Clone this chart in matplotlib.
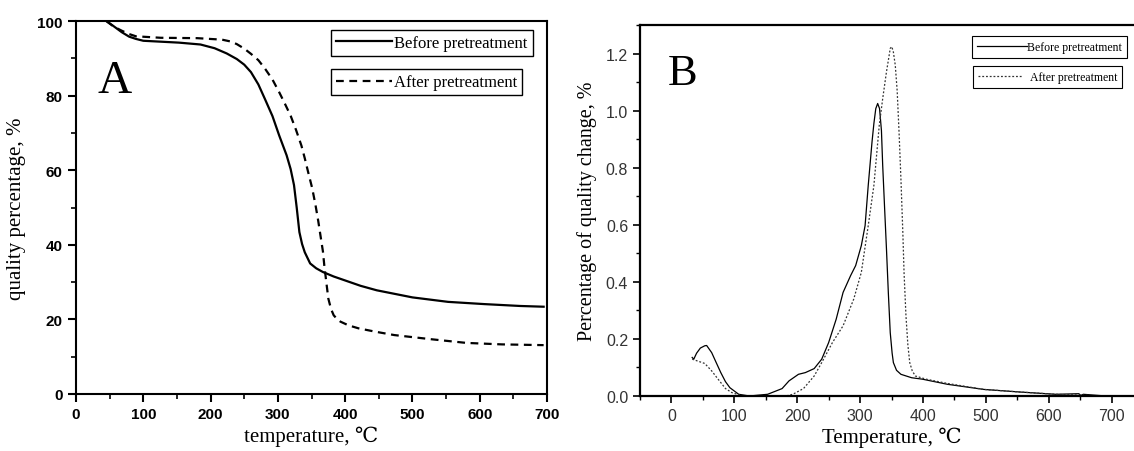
import numpy as np
import matplotlib
matplotlib.use("Agg")
import matplotlib.pyplot as plt
from matplotlib.ticker import MultipleLocator, FormatStrFormatter

# Panel A: TG curves (quality percentage, %)
tA_before = [45, 56, 68, 79, 89, 100, 153, 185, 206, 224, 239, 250, 260, 271, 281, 292, 302,
             313, 319, 324, 328, 332, 336, 340, 348, 357, 367, 383, 399, 423, 447, 500, 553,
             607, 660, 695]
pA_before = [100, 98.6, 97, 95.8, 95.2, 94.7, 94.2, 93.7, 92.7, 91.3, 89.8, 88.3, 86.3, 83,
             79, 74.5, 69.3, 64, 60.3, 56, 50, 43.4, 40.2, 38, 35, 33.7, 32.7, 31.5, 30.5, 29,
             27.8, 25.9, 24.7, 24.1, 23.6, 23.4]
tA_after = [45, 56, 68, 79, 89, 126, 180, 217, 230, 239, 250, 260, 271, 281, 292, 302, 310,
            319, 327, 335, 340, 345, 351, 356, 360, 364, 367, 369, 372, 375, 379, 383, 388,
            393, 405, 420, 445, 473, 527, 580, 633, 695]
pA_after = [100, 98.5, 97.4, 96.5, 95.9, 95.5, 95.4, 95, 94.5, 93.8, 92.6, 91.2, 89.5, 87.2,
            84.3, 80.9, 78, 74.6, 70.8, 66.6, 63.2, 59.5, 55.2, 50.6, 46.4, 41.7, 38.2, 34.5,
            30, 25.6, 22.8, 21.1, 20.1, 19.4, 18.4, 17.6, 16.7, 15.8, 14.7, 13.7, 13.3, 13.1]

# Panel B: DTG curves (percentage of quality change, %)
tB_before = [33, 35.5, 40, 46, 53, 56, 64, 71, 78.5, 86, 93, 107, 124, 153, 176, 187, 202,
             213, 227, 239, 250, 262, 273, 285, 293, 302, 308, 313, 319, 322, 325, 328, 331,
             334, 336, 339, 342, 345, 348, 351, 353, 358, 365, 382, 399, 439, 497, 554, 611,
             648, 651, 655, 691]
dB_before = [0.135, 0.129, 0.15, 0.168, 0.176, 0.177, 0.152, 0.118, 0.082, 0.05, 0.029, 0.006,
             0.0, 0.006, 0.026, 0.053, 0.076, 0.082, 0.096, 0.129, 0.187, 0.269, 0.363, 0.422,
             0.457, 0.527, 0.597, 0.738, 0.890, 0.955, 1.007, 1.025, 1.007, 0.93, 0.808, 0.66,
             0.515, 0.36, 0.222, 0.15, 0.117, 0.09, 0.076, 0.064, 0.059, 0.041, 0.023, 0.014,
             0.006, 0.008, 0.002, 0.006, 0.0]
tB_after = [33, 41, 53, 64, 71, 78.5, 86, 96, 113, 182, 193, 210, 227, 239, 256, 273, 290,
            302, 313, 322, 330.5, 336, 342, 346, 348, 350.5, 353, 356, 359, 362, 365, 368, 370,
            373, 376, 379, 383, 388, 405, 439, 497, 554, 611, 691]
dB_after = [0.129, 0.123, 0.114, 0.088, 0.068, 0.047, 0.026, 0.012, 0.0, 0.0, 0.006, 0.026,
            0.07, 0.117, 0.187, 0.246, 0.340, 0.433, 0.597, 0.738, 0.948, 1.042, 1.136, 1.19,
            1.218, 1.224, 1.205, 1.159, 1.07, 0.925, 0.76, 0.574, 0.43, 0.281, 0.18, 0.117,
            0.088, 0.070, 0.059, 0.044, 0.023, 0.014, 0.006, 0.0]

serif = ['Liberation Serif', 'DejaVu Serif']
sans = ['Liberation Sans', 'DejaVu Sans']

fig = plt.figure(figsize=(11.34, 4.52), dpi=100)

# ---------------- Panel A ----------------
axA = fig.add_axes([76 / 1134, 57 / 452, 471 / 1134, 373 / 452])
axA.plot(tA_before, pA_before, color='black', lw=1.6)
axA.plot(tA_after, pA_after, color='black', lw=1.6, ls=(0, (3.5, 2.5)))
axA.set_xlim(0, 700)
axA.set_ylim(0, 100)
axA.xaxis.set_major_locator(MultipleLocator(100))
axA.xaxis.set_minor_locator(MultipleLocator(50))
axA.yaxis.set_major_locator(MultipleLocator(20))
axA.yaxis.set_minor_locator(MultipleLocator(10))
axA.tick_params(which='major', direction='out', length=6, width=1.5)
axA.tick_params(which='minor', direction='out', length=3.5, width=1.2)
for lab in axA.get_xticklabels() + axA.get_yticklabels():
    lab.set_family(sans)
    lab.set_fontsize(11)
    lab.set_fontweight('bold')
for s in axA.spines.values():
    s.set_linewidth(1.5)
axA.set_xlabel('temperature, ℃', family=serif, fontsize=15, labelpad=3)
axA.set_ylabel('quality percentage, %', family=serif, fontsize=15, labelpad=8)
axA.text(0.045, 0.81, 'A', transform=axA.transAxes, family=serif, fontsize=34)

hA = axA.get_lines()
legA1 = axA.legend([hA[0]], ['Before pretreatment'], loc='upper left',
                   bbox_to_anchor=(0.541, 0.975), prop={'family': serif, 'size': 12},
                   fancybox=False, edgecolor='black', framealpha=1, borderaxespad=0,
                   handlelength=3.4, handletextpad=0.1, borderpad=0.3)
legA1.get_frame().set_linewidth(1.0)
axA.add_artist(legA1)
legA2 = axA.legend([hA[1]], ['After pretreatment'], loc='upper left',
                   bbox_to_anchor=(0.541, 0.87), prop={'family': serif, 'size': 12},
                   fancybox=False, edgecolor='black', framealpha=1, borderaxespad=0,
                   handlelength=3.4, handletextpad=0.1, borderpad=0.3)
legA2.get_frame().set_linewidth(1.0)

# ---------------- Panel B ----------------
axB = fig.add_axes([640 / 1134, 55 / 452, 503 / 1134, 371 / 452])
axB.plot(tB_before, dB_before, color='black', lw=0.9)
axB.plot(tB_after, dB_after, color='#333333', lw=0.9, ls=(0, (1.5, 1.5)))
axB.set_xlim(-50, 750)
axB.set_ylim(0, 1.3)
axB.set_xticks(np.arange(0, 701, 100))
axB.set_yticks(np.arange(0, 1.21, 0.2))
axB.xaxis.set_minor_locator(MultipleLocator(50))
axB.yaxis.set_minor_locator(MultipleLocator(0.1))
axB.tick_params(which='major', direction='out', length=5, width=1.2, colors='black',
                labelcolor='#333333')
axB.tick_params(which='minor', direction='out', length=3, width=1.0)
for lab in axB.get_xticklabels() + axB.get_yticklabels():
    lab.set_family(sans)
    lab.set_fontsize(11.5)
axB.yaxis.set_major_formatter(FormatStrFormatter('%.1f'))
for s in axB.spines.values():
    s.set_linewidth(1.6)
axB.set_xlabel('Temperature, ℃', family=serif, fontsize=15, labelpad=3)
axB.set_ylabel('Percentage of quality change, %', family=serif, fontsize=14.5, labelpad=6)
axB.text(0.055, 0.84, 'B', transform=axB.transAxes, family=serif, fontsize=32)

hB = axB.get_lines()
legB1 = axB.legend([hB[0]], ['Before pretreatment'], loc='upper left',
                   bbox_to_anchor=(0.66, 0.97), prop={'family': serif, 'size': 8.5},
                   fancybox=False, edgecolor='black', framealpha=1, borderaxespad=0,
                   handlelength=4.3, handletextpad=0.0, borderpad=0.4)
legB1.get_frame().set_linewidth(0.8)
axB.add_artist(legB1)
legB2 = axB.legend([hB[1]], ['After pretreatment'], loc='upper left',
                   bbox_to_anchor=(0.662, 0.889), prop={'family': serif, 'size': 8.5},
                   fancybox=False, edgecolor='black', framealpha=1, borderaxespad=0,
                   handlelength=3.8, handletextpad=0.6, borderpad=0.4)
legB2.get_frame().set_linewidth(0.8)

fig.savefig('out.png', dpi=100)
